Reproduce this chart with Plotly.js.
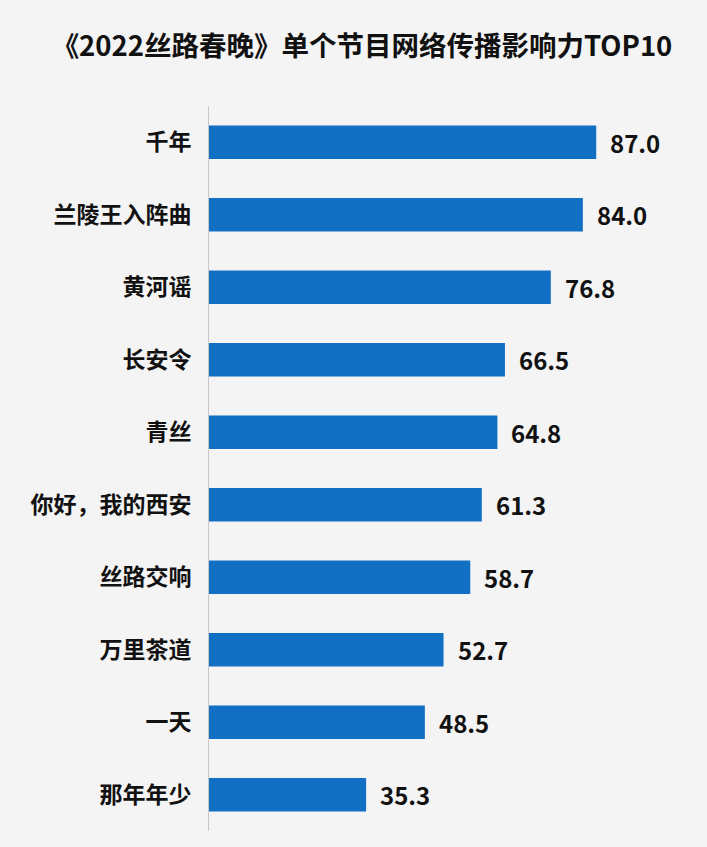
<!DOCTYPE html>
<html>
<head>
<meta charset="utf-8">
<script src="https://cdn.plot.ly/plotly-3.0.1.min.js"></script>
<style>html,body{margin:0;padding:0;background:#f4f4f4;}#chart{width:707px;height:847px;}</style>
</head>
<body>
<div id="chart"></div>
<script>
const categories = ["千年","兰陵王入阵曲","黄河谣","长安令","青丝","你好，我的西安","丝路交响","万里茶道","一天","那年年少"];
const values = [87.0, 84.0, 76.8, 66.5, 64.8, 61.3, 58.7, 52.7, 48.5, 35.3];
const titleText = "《2022丝路春晚》单个节目网络传播影响力TOP10";

const font = "'Noto Sans CJK SC', 'Noto Sans', sans-serif";

const trace = {
  type: 'bar',
  orientation: 'h',
  x: values,
  y: categories,
  width: 0.46,
  marker: {color: '#1170c4', line: {width: 0}},
  hoverinfo: 'none'
};

const annotations = values.map((v, i) => ({
  x: v, y: categories[i], xref: 'x', yref: 'y',
  text: '<b>' + v.toFixed(1) + '</b>',
  showarrow: false, xanchor: 'left', xshift: 12,
  font: {family: font, size: 24, color: '#111111'}
}));

const layout = {
  width: 707, height: 847,
  paper_bgcolor: '#f4f4f4',
  plot_bgcolor: 'rgba(0,0,0,0)',
  margin: {l: 209, r: 20, t: 106, b: 16},
  title: {
    text: '<b>' + titleText + '</b>',
    x: 0.512, xanchor: 'center', y: 1 - 46/847, yanchor: 'middle',
    yref: 'container', xref: 'container',
    font: {family: font, size: 27.5, color: '#111111'}
  },
  xaxis: {
    range: [0, 107.4], showgrid: false, zeroline: false,
    showticklabels: false, ticks: '', showline: false, fixedrange: true
  },
  yaxis: {
    autorange: 'reversed', type: 'category',
    showgrid: false, zeroline: false, ticks: '',
    showline: true, linecolor: '#c8c8c8', linewidth: 1,
    ticklabelstandoff: 12,
    tickfont: {family: font, size: 23, color: '#111111'},
    tickvals: categories,
    ticktext: categories.map(c => '<b>' + c + '</b>'),
    fixedrange: true
  },
  bargap: 0.54,
  showlegend: false,
  annotations: annotations
};

Plotly.newPlot('chart', [trace], layout, {displayModeBar: false, staticPlot: true});
</script>
</body>
</html>
